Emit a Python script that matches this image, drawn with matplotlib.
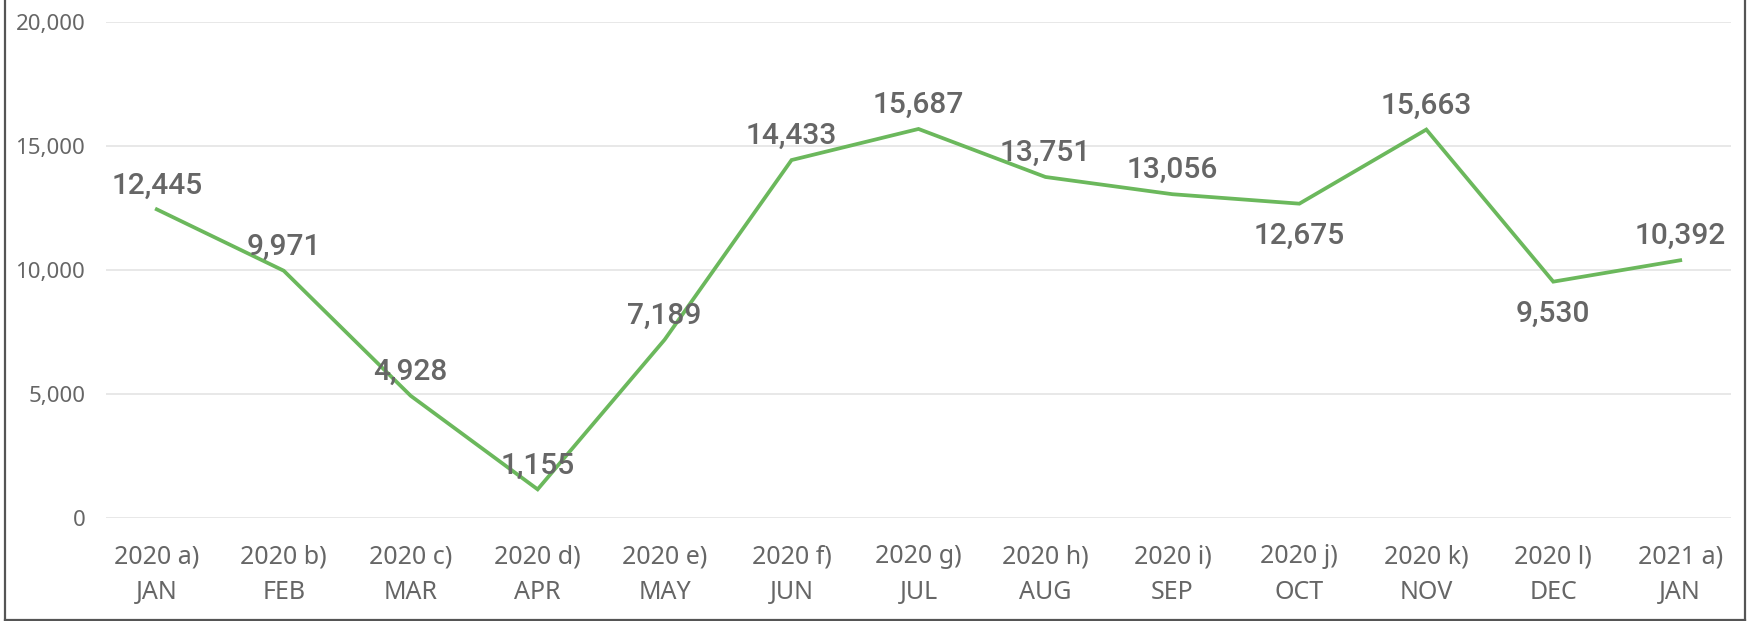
import matplotlib.pyplot as plt
from matplotlib.lines import Line2D

# data
years = ['2020 a)', '2020 b)', '2020 c)', '2020 d)', '2020 e)', '2020 f)', '2020 g)',
         '2020 h)', '2020 i)', '2020 j)', '2020 k)', '2020 l)', '2021 a)']
months = ['JAN', 'FEB', 'MAR', 'APR', 'MAY', 'JUN', 'JUL',
          'AUG', 'SEP', 'OCT', 'NOV', 'DEC', 'JAN']
values = [12445, 9971, 4928, 1155, 7189, 14433, 15687, 13751, 13056, 12675, 15663, 9530, 10392]
label_side = ['up', 'up', 'up', 'up', 'up', 'up', 'up', 'up', 'up', 'down', 'up', 'down', 'up']

yticks = [0, 5000, 10000, 15000, 20000]

LINE_COLOR = '#6BB85C'
TEXT_COLOR = '#666666'

fig = plt.figure(figsize=(17.48, 6.21), dpi=100)
ax = fig.add_axes([106 / 1748, 1 - 518 / 621, (1731 - 106) / 1748, (518 - 22) / 621])

x = list(range(len(values)))
ax.plot(x, values, color=LINE_COLOR, linewidth=2.7, solid_joinstyle='miter', zorder=3)

# data labels
for xi, v, side in zip(x, values, label_side):
    if side == 'up':
        off = 11.5
    else:
        off = -29
    ax.annotate(f'{v:,}', (xi, v), xytext=(0, off), textcoords='offset points',
                ha='center', va='baseline', fontsize=21.5, color=TEXT_COLOR,
                family='Roboto', fontweight='medium', zorder=4)

ax.set_xlim(-0.4, len(values) - 1 + 0.4)
ax.set_ylim(0, 20000)
ax.set_yticks(yticks)
ax.set_yticklabels([f'{t:,}' for t in yticks])
ax.set_xticks(x)
ax.set_xticklabels([f'{a}\n{b}' for a, b in zip(years, months)], linespacing=1.55)

ax.grid(axis='y', color='#E6E6E6', linewidth=1.3)
ax.set_axisbelow(True)
for s in ax.spines.values():
    s.set_visible(False)
ax.tick_params(axis='both', length=0, colors=TEXT_COLOR)
ax.tick_params(axis='y', pad=15, labelsize=16)
ax.tick_params(axis='x', pad=19, labelsize=18)
for lab in ax.get_xticklabels() + ax.get_yticklabels():
    lab.set_family('Noto Sans')

# outer frame (left, right, bottom)
frame = dict(color='#555555', linewidth=1.6, transform=fig.transFigure)
fig.add_artist(Line2D([5 / 1748, 5 / 1748], [0, 1], **frame))
fig.add_artist(Line2D([1745 / 1748, 1745 / 1748], [0, 1], **frame))
fig.add_artist(Line2D([5 / 1748, 1745 / 1748], [1 / 621, 1 / 621], **frame))

fig.savefig('out.png', dpi=100)
